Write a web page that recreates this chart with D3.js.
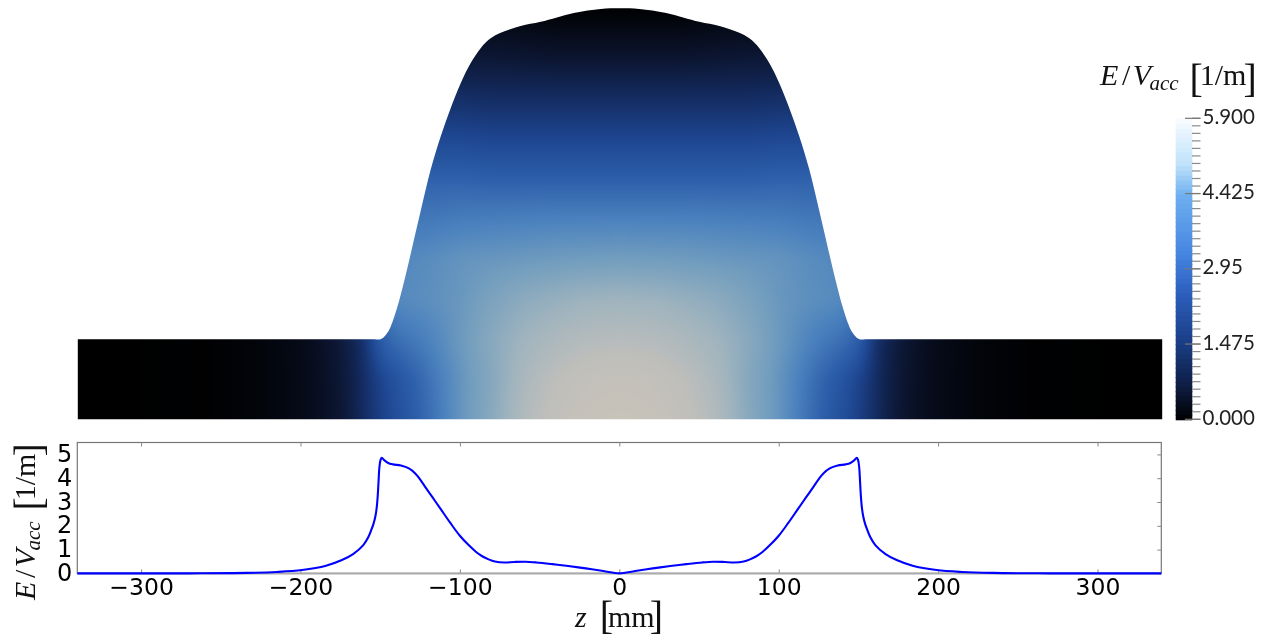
<!DOCTYPE html>
<html>
<head>
<meta charset="utf-8">
<script src="https://cdn.jsdelivr.net/npm/d3@7"></script>
<style>
html,body{margin:0;padding:0;background:#fff;overflow:hidden}
#wrap{position:relative;width:1279px;height:635px}
canvas,svg{position:absolute;left:0;top:0}
</style>
</head>
<body>
<div id="wrap"><canvas id="field" width="1279" height="635"></canvas><svg id="chart" width="1279" height="635"></svg></div>
<script>
// Surface-field profile, one half (z >= 0, mm; E/Vacc in 1/m); the cavity is mirror-symmetric
const profileZ = [0,10,21,32,42,52,59,66,72,78,82,86,90,95,100,106,112,117,122,125,128,132,137,142,145,147.5,149,149.8,150.5,151,151.5,152.2,153,154.2,155.5,157.5,160.6,167,174,184,199,215,234,270,340];
const profileE = [0,.1,.21,.31,.39,.46,.49,.48,.46,.5,.59,.72,.91,1.22,1.58,2.12,2.7,3.18,3.66,3.95,4.2,4.41,4.53,4.58,4.64,4.76,4.86,4.76,4.45,3.9,3.3,2.75,2.4,2.08,1.84,1.52,1.19,.81,.56,.32,.14,.06,.02,.003,0];
// Cavity wall, one half (z, r in mm)
const wallZ = [0,12.1,29,49.7,62.3,74.8,81.1,87.4,93.7,99.9,106.2,112.5,118.8,125,131.3,135.5,139.6,143.9,147,150.1,155,340];
const wallR = [257.6,257.2,254.7,249.1,246.5,242.3,238.8,232.6,223.1,210.6,194.9,177.1,156.2,130.5,103.5,85.9,70.5,57.9,52.7,50.2,50.2,50.2];
// Field intensity on a (z, r) sample grid, normalised to the centre of the cavity
const fieldZ = [0,20,40,60,80,100,120,130,140,150,160,170,180,190,200,220,240,260,340];
const fieldR = [0,25,50,75,100,125,150,175,200,225,258];
const fieldRows = [
 [1,.985,.93,.85,.71,.6,.46,.4,.345,.28,.21,.135,.095,.07,.05,.028,.014,.005,0],
 [.96,.945,.9,.825,.7,.6,.475,.42,.37,.3,.215,.14,.1,.07,.05,.028,.014,.005,0],
 [.87,.86,.83,.785,.71,.62,.53,.5,.47,.42,.23,.15,.105,.075,.052,.028,.014,.005,0],
 [.78,.775,.75,.72,.67,.61,.58,.57,.56,.5,.4,.3,.2,.1,.05,.02,.01,0,0],
 [.64,.635,.63,.62,.61,.6,.57,.56,.55,.5,.4,.3,.2,.1,.05,.02,.01,0,0],
 [.53,.53,.53,.525,.52,.515,.5,.5,.5,.45,.4,.3,.2,.1,.05,.02,.01,0,0],
 [.42,.42,.42,.42,.42,.43,.43,.43,.43,.43,.4,.3,.2,.1,.05,.02,.01,0,0],
 [.31,.31,.31,.31,.31,.32,.32,.32,.32,.32,.32,.3,.2,.1,.05,.02,.01,0,0],
 [.21,.21,.21,.21,.21,.22,.22,.22,.22,.22,.22,.22,.2,.1,.05,.02,.01,0,0],
 [.11,.11,.11,.115,.12,.12,.12,.12,.12,.12,.12,.12,.12,.1,.05,.02,.01,0,0],
 [0,0,0,.01,.02,.02,.02,.02,.02,.02,.02,.02,.02,.02,.02,.02,.01,0,0]
];
const fieldStops = [0,.11,.21,.31,.42,.53,.64,.78,.9,1];
const fieldColors = ["#000000","#0c1632","#142d64","#1e4691","#2d5faa","#4b82be","#739ebe","#a0b4be","#bebebb","#c8c3b9"];
// Colour bar
const barStops = [0,.7,1.475,2.5,3.3,4.4,5,5.9];
const barColors = ["#000000","#0f1e46","#193c82","#2d5fbe","#4687e1","#6eaff0","#bee1fa","#f8fcff"];
const barTicks = [5.9,4.425,2.95,1.475,0];
const barTickLabels = ["5.900","4.425","2.95","1.475","0.000"];
const xTicks = [-300,-200,-100,0,100,200,300];
const yTicks = [0,1,2,3,4,5];

const SERIF = "'Liberation Serif',serif";
const svg = d3.select("#chart");

// ---------- cavity field ----------
const fx = d3.scaleLinear([-340,340],[77.8,1162.2]);
const fy = d3.scaleLinear([0,257.6],[419.3,8.3]);
const fieldColor = d3.scaleLinear(fieldStops,fieldColors).interpolate(d3.interpolateRgb).clamp(true);
(function(){
  const W=1279,H=435, t=new Float32Array(W*H);
  const bis=d3.bisector(d=>d).right;
  const colOf=z=>{const i=Math.min(bis(fieldZ,z),fieldZ.length-1);const a=Math.max(i-1,0);return [a,i,(i===a)?0:(z-fieldZ[a])/(fieldZ[i]-fieldZ[a])];};
  const rowOf=r=>{const i=Math.min(bis(fieldR,r),fieldR.length-1);const a=Math.max(i-1,0);return [a,i,(i===a)?0:Math.min(1,(r-fieldR[a])/(fieldR[i]-fieldR[a]))];};
  for(let y=0;y<H;y++){
    const r=Math.max(0,fy.invert(y+.5)); const [r0,r1,v]=rowOf(r);
    for(let x=0;x<W;x++){
      const z=Math.min(340,Math.abs(fx.invert(x+.5))); const [c0,c1,u]=colOf(z);
      const a=fieldRows[r0][c0]*(1-u)+fieldRows[r0][c1]*u, b=fieldRows[r1][c0]*(1-u)+fieldRows[r1][c1]*u;
      t[y*W+x]=a*(1-v)+b*v;
    }
  }
  d3.blur2({data:t,width:W,height:H},5);
  const off=document.createElement("canvas");off.width=W;off.height=H;
  const oc=off.getContext("2d"),img=oc.createImageData(W,H);
  for(let i=0;i<W*H;i++){
    const c=d3.rgb(fieldColor(t[i]));
    img.data[4*i]=c.r;img.data[4*i+1]=c.g;img.data[4*i+2]=c.b;img.data[4*i+3]=255;
  }
  oc.putImageData(img,0,0);
  const ctx=document.getElementById("field").getContext("2d");
  const wall=[...wallZ.map((z,i)=>[-z,wallR[i]]).reverse().slice(0,-1),...wallZ.map((z,i)=>[z,wallR[i]])];
  ctx.save();ctx.beginPath();
  d3.area().x(d=>fx(d[0])).y0(fy(0)).y1(d=>fy(d[1])).curve(d3.curveCatmullRom.alpha(.5)).context(ctx)(wall);
  ctx.clip();ctx.drawImage(off,0,0);ctx.restore();
})();

// ---------- math labels ----------
function yLabelText(sel,fs){
  sel.attr("font-family",SERIF).attr("font-size",fs).attr("fill","#111");
  const s=(txt,o={})=>{const e=sel.append("tspan").text(txt);Object.entries(o).forEach(([k,v])=>e.attr(k,v));return e;};
  s("E",{"font-style":"italic"});
  s("/",{dx:fs*.12});
  s("V",{"font-style":"italic",dx:fs*.08});
  s("acc",{"font-style":"italic","font-size":fs*.7,dy:fs*.17,dx:fs*-.05});
  s("[",{"font-size":fs*1.33,dy:fs*.07,dx:fs*.36});
  s("1/m",{dy:fs*-.24,dx:-3});
  s("]",{"font-size":fs*1.33,dy:fs*.24,dx:-3});
}
yLabelText(svg.append("text").attr("x",1100).attr("y",85),30);
yLabelText(svg.append("text").attr("transform","translate(35,600) rotate(-90)"),30);
(function(){
  const t=svg.append("text").attr("x",575).attr("y",627).attr("font-family",SERIF).attr("font-size",30).attr("fill","#111");
  t.append("tspan").attr("font-style","italic").text("z");
  t.append("tspan").attr("font-size",40).attr("dx",13).attr("dy",2).text("[");
  t.append("tspan").attr("dy",-2).attr("dx",-5).text("mm");
  t.append("tspan").attr("font-size",40).attr("dy",2).attr("dx",-5).text("]");
})();

// ---------- colour bar ----------
const by = d3.scaleLinear([0,5.9],[419.3,118.3]);
const barColor = d3.scaleLinear(barStops,barColors);
const nBands = 64, bandVals = d3.range(nBands).map(i=>(i+.5)*5.9/nBands);
svg.append("g").selectAll("rect").data(bandVals).join("rect")
  .attr("x",1175.7).attr("width",16.6)
  .attr("y",d=>by(d+5.9/nBands/2)).attr("height",d=>by(d-5.9/nBands/2)-by(d+5.9/nBands/2)+1)
  .attr("fill",d=>barColor(d));
const minor = d3.range(41).map(i=>i*5.9/40);
svg.append("g").selectAll("line").data(minor).join("line")
  .attr("x1",1192).attr("x2",1200.5).attr("y1",d=>by(d)).attr("y2",d=>by(d))
  .attr("stroke","#8a8a8a").attr("stroke-width",1.2);
svg.append("g").selectAll("line").data(barTicks).join("line")
  .attr("x1",1185).attr("x2",1200.5).attr("y1",d=>by(d)).attr("y2",d=>by(d))
  .attr("stroke","#777").attr("stroke-width",1.2);
svg.append("g").selectAll("text").data(barTicks).join("text")
  .attr("x",1202.5).attr("y",d=>by(d)+5.5)
  .attr("font-family","Lato").attr("font-size",20.5).attr("fill","#222")
  .text((d,i)=>barTickLabels[i]);

// ---------- line plot ----------
const x = d3.scaleLinear([-340,340],[77.3,1161.3]);
const y = d3.scaleLinear([0,5.5],[573.4,442.5]);
svg.append("rect").attr("x",77.3).attr("y",442.5).attr("width",1084).attr("height",130.9)
  .attr("fill","none").attr("stroke","#777").attr("stroke-width",1.2);
const styleAxis=g=>{g.select(".domain").remove();g.selectAll("line").attr("stroke","#888").attr("stroke-width",1);};
const xAxis=svg.append("g").attr("transform","translate(0,573.4)")
  .call(d3.axisBottom(x).tickValues(xTicks).tickSizeInner(-4).tickPadding(9)).call(styleAxis);
xAxis.selectAll("text").attr("font-family","'DejaVu Sans'").attr("font-size",23.5).attr("fill","#000").attr("dy",0).attr("y",21.5);
svg.append("g").attr("transform","translate(0,442.5)")
  .call(d3.axisTop(x).tickValues(xTicks).tickSizeInner(-4).tickFormat("")).call(styleAxis);
svg.append("g").attr("transform","translate(1161.3,0)")
  .call(d3.axisRight(y).tickValues(yTicks).tickSizeInner(-4).tickFormat("")).call(styleAxis);
const yAxis=svg.append("g").attr("transform","translate(77.3,0)")
  .call(d3.axisLeft(y).tickValues(yTicks).tickSize(0).tickPadding(5).tickFormat(d3.format("d"))).call(styleAxis);
yAxis.selectAll("text").attr("font-family","'DejaVu Sans'").attr("font-size",24).attr("fill","#000").attr("dy",0).attr("y",7);
svg.append("line").attr("x1",x.range()[0]).attr("x2",x.range()[1]).attr("y1",573.4).attr("y2",573.4).attr("stroke","#aaa").attr("stroke-width",2);
const profile=[...profileZ.map((z,i)=>[-z,profileE[i]]).reverse().slice(0,-1),...profileZ.map((z,i)=>[z,profileE[i]])];
svg.append("path").datum(profile)
  .attr("d",d3.line().x(d=>x(d[0])).y(d=>y(d[1])).curve(d3.curveCatmullRom.alpha(.5)))
  .attr("fill","none").attr("stroke","#0000ff").attr("stroke-width",2.1);
</script>
</body>
</html>
